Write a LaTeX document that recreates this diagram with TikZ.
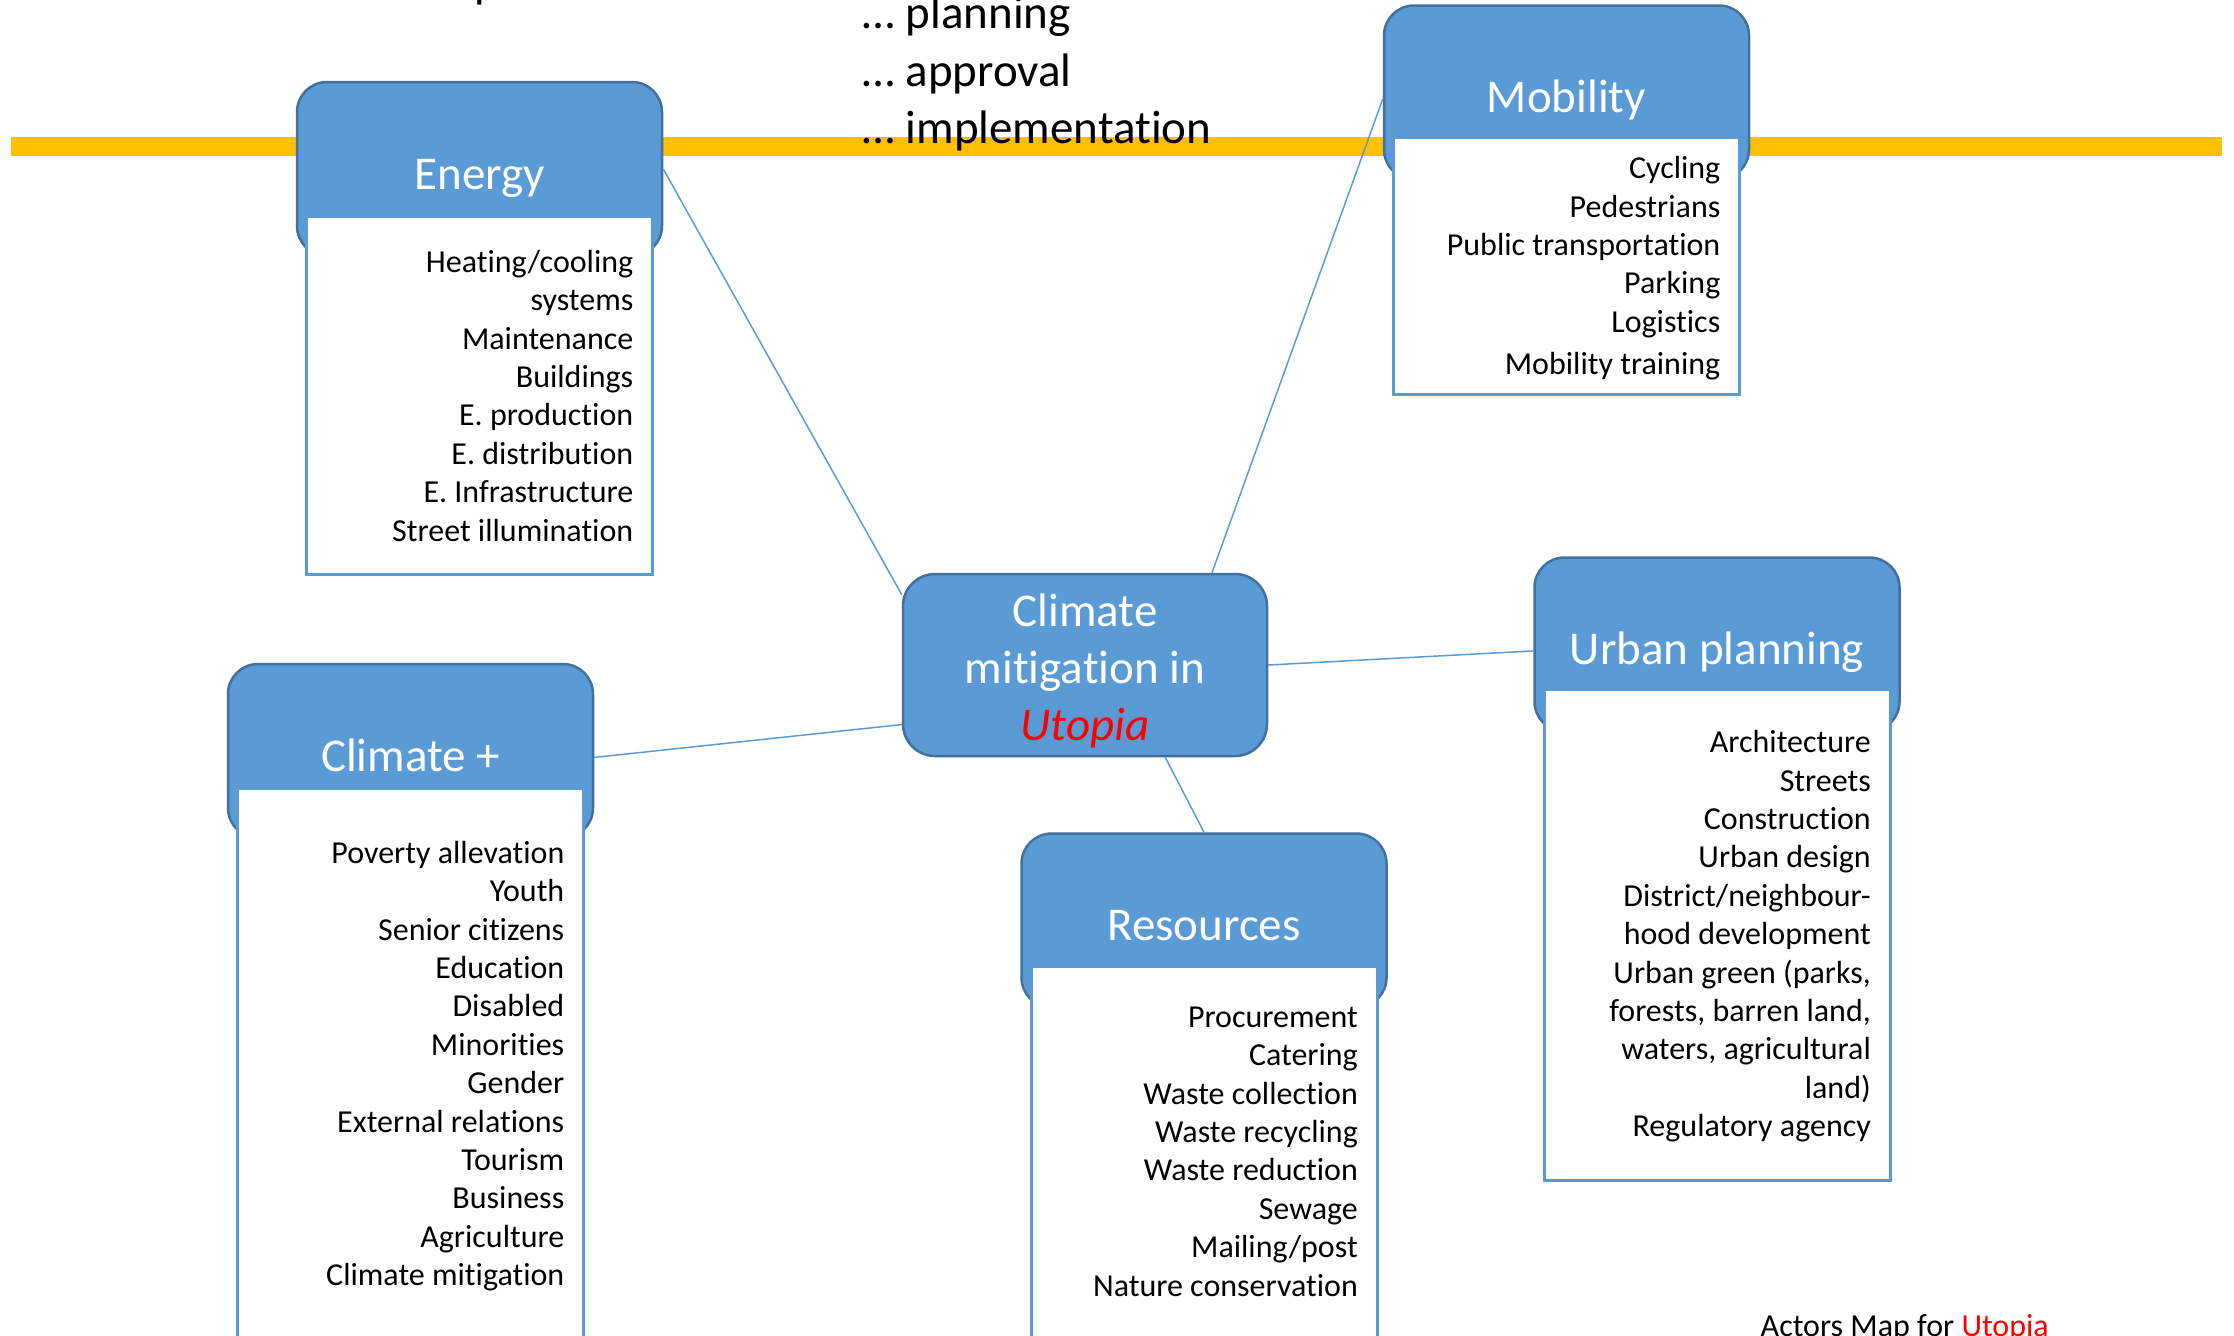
\documentclass[tikz,border=0pt]{standalone}
\usepackage{fontspec}
\setmainfont{Carlito}[Ligatures=NoCommon]
\usetikzlibrary{positioning, calc}
\definecolor{accentblue}{HTML}{5B9BD5}
\definecolor{darkblue}{HTML}{41719C}
\definecolor{bandyellow}{HTML}{FFC000}
\newcommand{\bigfont}{\fontsize{0.47cm}{0.57cm}\selectfont}
\newcommand{\listfont}{\fontsize{0.32cm}{0.384cm}\selectfont}

\begin{document}
\begin{tikzpicture}[
		header/.style={draw=darkblue, line width=0.025cm, fill=accentblue, rounded corners=0.3cm, minimum width=3.65cm, inner sep=0pt, text height=1.07cm, text depth=0.67cm, text=white, font=\bigfont},
		hubbox/.style={draw=darkblue, line width=0.025cm, fill=accentblue, rounded corners=0.32cm, minimum width=3.64cm, minimum height=1.82cm, inner sep=0pt, align=center, text=white, font=\bigfont},
		listbox/.style={draw=accentblue, line width=0.03cm, fill=white, minimum width=3.46cm, inner sep=0pt},
		item/.style={anchor=base east, inner sep=0pt, font=\listfont},
		link/.style={draw=accentblue, line width=0.015cm}
	]
		\useasboundingbox (0,0) rectangle (22.34,-13.35);
		\fill[bandyellow] (0.11,-1.37) rectangle (22.22,-1.56);
		\node[anchor=base west, inner sep=0pt, font=\bigfont] (title-p) at (4.74,0.03) {p};
		\foreach \t [count=\i] in {planning, approval, implementation} {
			\node[anchor=base west, inner sep=0pt, font=\bigfont] (phase-\i) at (8.62,{-0.285-0.575*(\i-1)}) {… \t};
		}
		% categories
		\node[header] (energy) at (4.795,-1.69) {Energy};
		\node[header] (mobility) at (15.665,-0.925) {Mobility};
		\node[header] (climate) at (4.105,-7.51) {Climate +};
		\node[header] (resources) at (12.04,-9.205) {Resources};
		\node[header] (urban) at (17.17,-6.445) {Urban planning};
		\node[listbox, minimum height=3.58cm, below=1.34cm of energy.north] (energy-list) {};
		\node[listbox, minimum height=2.57cm, below=1.315cm of mobility.north] (mobility-list) {};
		\node[listbox, minimum height=5.8cm, below=1.24cm of climate.north] (climate-list) {};
		\node[listbox, minimum height=4.0cm, below=1.325cm of resources.north] (resources-list) {};
		\node[listbox, minimum height=4.91cm, below=1.315cm of urban.north] (urban-list) {};
		% list entries
		\foreach \t [count=\i] in {Heating/cooling, systems, Maintenance, Buildings, E. production, E. distribution, E. Infrastructure, Street illumination} {
			\node[item] (energy-\i) at ($(energy-list.north east)+(-0.2,{-0.575-0.384*(\i-1)})$) {\t};
		}
		\foreach \t [count=\i] in {Cycling, Pedestrians, Public transportation, Parking, Logistics, Mobility training} {
			\node[item] (mobility-\i) at ($(mobility-list.north east)+(-0.2,{-0.43-0.384*(\i-1)-0.04*(\i==6)})$) {\t};
		}
		\foreach \t [count=\i] in {Poverty allevation, Youth, Senior citizens, Education, Disabled, Minorities, Gender, External relations, Tourism, Business, Agriculture, Climate mitigation} {
			\node[item] (climate-\i) at ($(climate-list.north east)+(-0.2,{-0.765-0.384*(\i-1)})$) {\t};
		}
		\foreach \t [count=\i] in {Procurement, Catering, Waste collection, Waste recycling, Waste reduction, Sewage, Mailing/post, Nature conservation} {
			\node[item] (resources-\i) at ($(resources-list.north east)+(-0.2,{-0.625-0.384*(\i-1)})$) {\t};
		}
		\foreach \t [count=\i] in {Architecture, Streets, Construction, Urban design, District/neighbour-, hood development, {Urban green (parks,}, {forests, barren land,}, {waters, agricultural}, land), Regulatory agency} {
			\node[item] (urban-\i) at ($(urban-list.north east)+(-0.2,{-0.65-0.384*(\i-1)})$) {\t};
		}
		% centre
		\node[hubbox] (hub) at (10.85,-6.65) {\rule{0pt}{0.44cm}Climate\\mitigation in\\\textcolor{red}{\textit{Utopia}}};
		\draw[link] (energy.east) -- (hub.159);
		\draw[link] (hub.36) -- (mobility.182);
		\draw[link] (hub.east) -- (urban.182);
		\draw[link] (climate.-2) -- (hub.198);
		\draw[link] (hub.311) -- (resources.north);
		\node[anchor=base west, inner sep=0pt, font=\listfont] (caption) at (17.6,-13.36) {Actors Map for \textcolor{red}{Utopia}};
	\end{tikzpicture}
\end{document}
